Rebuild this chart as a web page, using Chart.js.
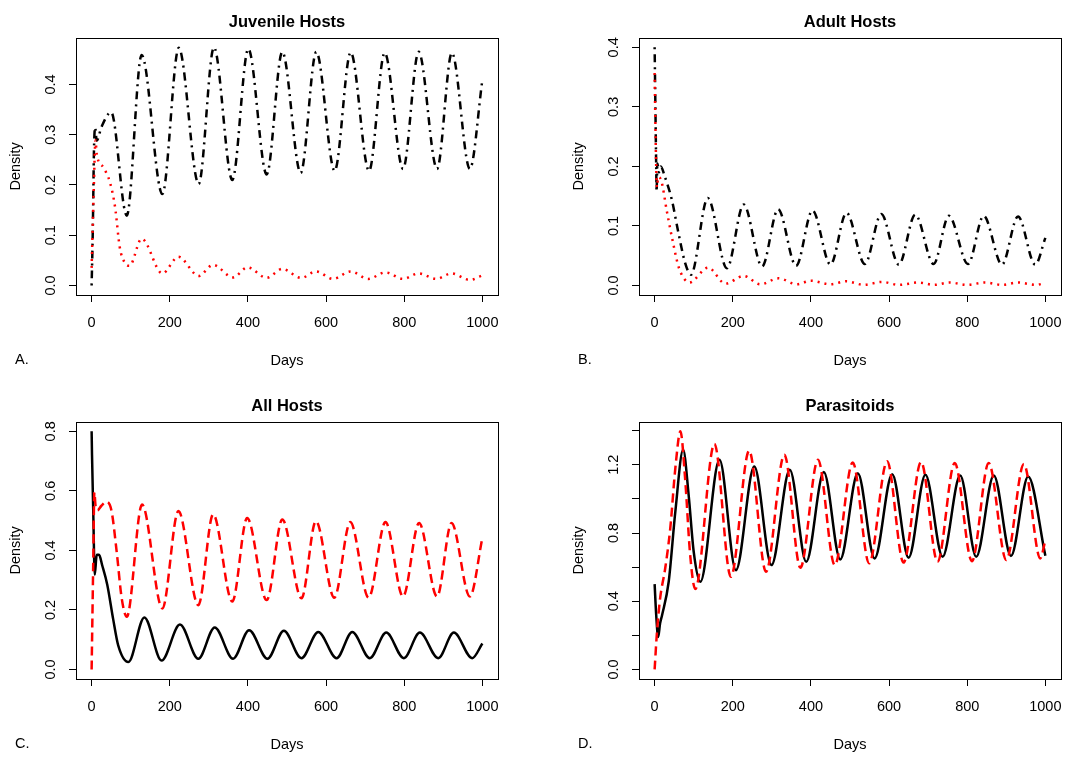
<!DOCTYPE html>
<html>
<head>
<meta charset="utf-8">
<script src="https://cdn.jsdelivr.net/npm/chart.js@4.4.1/dist/chart.umd.min.js"></script>
<style>
  html, body { margin: 0; padding: 0; background: #fff; overflow: hidden; }
  body { position: relative; width: 1085px; height: 758px; }
  .panel { position: absolute; width: 542px; height: 379px; }
</style>
</head>
<body>
<div class="panel" style="left:0;top:0"><canvas id="juvenile" width="542" height="379"></canvas></div>
<div class="panel" style="left:563px;top:0"><canvas id="adult" width="542" height="379"></canvas></div>
<div class="panel" style="left:0;top:384px"><canvas id="allHosts" width="542" height="379"></canvas></div>
<div class="panel" style="left:563px;top:384px"><canvas id="parasitoids" width="542" height="379"></canvas></div>
<script>
// ---- data: [day, density] ----
const dayTicks = [0, 200, 400, 600, 800, 1000];
const hostTicks = [0, 0.1, 0.2, 0.3, 0.4];
const hostTickLabels = ['0.0', '0.1', '0.2', '0.3', '0.4'];
const allTicks = [0, 0.2, 0.4, 0.6, 0.8];
const allTickLabels = ['0.0', '0.2', '0.4', '0.6', '0.8'];
const paraTicks = [0, 0.2, 0.4, 0.6, 0.8, 1.0, 1.2, 1.4];
const paraTickLabels = ['0.0', '', '0.4', '', '0.8', '', '1.2', ''];

const juvenileBlack = [[0,0],[3,0.11],[6,0.27],[9,0.315],[13,0.288],[25,0.315],[50,0.345],[90,0.139],
  [128,0.459],[181,0.182],[223,0.473],[274,0.202],[313,0.474],[360,0.21],[401,0.471],[448,0.221],
  [488,0.465],[535,0.224],[575,0.465],[622,0.228],[663,0.464],[710,0.228],[750,0.463],[797,0.232],
  [837,0.465],[884,0.232],[922,0.463],[968,0.232],[1000,0.409]];
const juvenileRed = [[0,0.035],[5,0.18],[10,0.289],[13,0.262],[30,0.235],[47,0.205],[60,0.156],[72,0.076],
  [85,0.045],[97,0.039],[128,0.093],[181,0.024],[222,0.057],[274,0.019],[311,0.041],[362,0.016],
  [399,0.036],[448,0.015],[488,0.033],[537,0.015],[574,0.028],[618,0.013],[663,0.028],[708,0.013],
  [752,0.026],[797,0.013],[837,0.024],[882,0.013],[921,0.024],[968,0.011],[1000,0.02]];

const adultBlack = [[0,0.4],[2,0.3],[4,0.2],[5,0.158],[7,0.205],[11,0.19],[16,0.2],[25,0.185],[44,0.144],
  [61,0.088],[78,0.038],[93,0.018],[136,0.147],[185,0.029],[228,0.136],[275,0.032],[316,0.128],
  [362,0.033],[404,0.126],[450,0.035],[491,0.122],[538,0.036],[580,0.12],[625,0.035],[667,0.119],
  [714,0.036],[753,0.117],[802,0.036],[842,0.117],[889,0.035],[930,0.116],[974,0.035],[1000,0.08]];
const adultRed = [[0,0.357],[2,0.27],[4,0.2],[6,0.165],[9,0.182],[16,0.178],[32,0.122],[49,0.066],
  [61,0.032],[75,0.012],[89,0.005],[137,0.03],[181,0.003],[228,0.016],[270,0.002],[317,0.012],
  [364,0.002],[400,0.008],[450,0.002],[491,0.007],[535,0.001],[582,0.006],[625,0.001],[676,0.005],
  [715,0.001],[755,0.005],[800,0.001],[845,0.005],[890,0.001],[930,0.005],[975,0.001],[1000,0.004]];

const allBlack = [[0,0.8],[1,0.72],[4,0.54],[8,0.318],[13,0.385],[19,0.385],[27,0.35],[40,0.285],
  [55,0.17],[68,0.081],[94,0.025],[135,0.175],[179,0.03],[226,0.151],[273,0.036],[315,0.141],
  [362,0.036],[403,0.132],[450,0.036],[492,0.13],[537,0.038],[580,0.126],[627,0.038],[667,0.126],
  [712,0.038],[754,0.124],[799,0.038],[840,0.124],[887,0.038],[927,0.124],[974,0.038],[1000,0.087]];
const allRed = [[0,0],[4,0.35],[7,0.595],[10,0.55],[15,0.535],[25,0.55],[38,0.563],[51,0.532],
  [64,0.397],[77,0.239],[90,0.177],[129,0.554],[181,0.205],[222,0.532],[273,0.216],[311,0.521],
  [360,0.228],[398,0.509],[448,0.233],[488,0.504],[537,0.239],[574,0.498],[621,0.241],[662,0.495],
  [709,0.241],[752,0.495],[797,0.245],[838,0.492],[884,0.245],[921,0.492],[968,0.245],[1000,0.442]];

const paraBlack = [[0,0.5],[4,0.32],[9,0.19],[14,0.27],[19,0.318],[36,0.514],[53,0.925],[73,1.288],
  [87,1.024],[100,0.69],[117,0.514],[166,1.229],[208,0.582],[255,1.19],[299,0.612],[346,1.171],
  [388,0.631],[433,1.157],[475,0.645],[520,1.151],[563,0.651],[608,1.145],[650,0.655],[693,1.141],
  [737,0.661],[782,1.137],[823,0.661],[868,1.137],[912,0.665],[956,1.131],[1000,0.667]];
const paraRed = [[0,0],[6,0.22],[14,0.416],[27,0.592],[40,0.827],[53,1.18],[66,1.396],[78,1.12],
  [91,0.67],[104,0.471],[153,1.322],[195,0.543],[242,1.282],[285,0.573],[332,1.259],[373,0.596],
  [418,1.229],[461,0.612],[507,1.214],[549,0.622],[595,1.22],[637,0.627],[682,1.216],[724,0.631],
  [768,1.21],[812,0.635],[855,1.21],[900,0.641],[945,1.204],[987,0.651],[1000,0.759]];

const FONT = '"Liberation Sans", Arial, sans-serif';
const DOTDASH = [2, 5, 8, 5], DOTTED = [2, 5], DASHED = [9, 5];

// box round the plot region and the panel letter, as R draws them
const frame = {
  id: 'frame',
  afterDraw(chart, args, opts) {
    const { ctx, chartArea: a } = chart;
    ctx.save();
    ctx.strokeStyle = '#000';
    ctx.lineWidth = 1;
    ctx.strokeRect(Math.round(a.left) + 0.5, Math.round(a.top) + 0.5,
      Math.round(a.right - a.left), Math.round(a.bottom - a.top));
    ctx.fillStyle = '#000';
    ctx.font = '14.5px ' + FONT;
    ctx.textBaseline = 'middle';
    ctx.fillText(opts.letter, 15, 360);
    ctx.restore();
  }
};

function line(points, color, dash) {
  return {
    data: points.map(p => ({ x: p[0], y: p[1] })),
    borderColor: color, borderWidth: 2.5, borderDash: dash,
    pointRadius: 0, cubicInterpolationMode: 'monotone', fill: false
  };
}

function panel(id, title, letter, yMin, yMax, yTicks, yLabels, datasets) {
  new Chart(document.getElementById(id), {
    type: 'line',
    data: { datasets },
    plugins: [frame],
    options: {
      responsive: false,
      animation: false,
      events: [],
      layout: { padding: { left: 0, right: 44, top: 0, bottom: 0 } },
      plugins: {
        legend: { display: false },
        tooltip: { enabled: false },
        title: { display: true, text: title, fullSize: false, color: '#000',
          font: { family: FONT, size: 16.5, weight: 'bold' }, padding: { top: 13, bottom: 5 } },
        frame: { letter }
      },
      scales: {
        x: {
          type: 'linear', min: -40, max: 1040,
          afterBuildTicks: ax => { ax.ticks = dayTicks.map(v => ({ value: v })); },
          afterFit: ax => { ax.height = 84; },
          border: { display: false },
          grid: { drawOnChartArea: false, tickLength: 7, color: '#000' },
          ticks: { padding: 12, color: '#000', maxRotation: 0, autoSkip: false,
            font: { family: FONT, size: 14.5 }, callback: v => String(v) },
          title: { display: true, text: 'Days', color: '#000',
            font: { family: FONT, size: 14.5 }, padding: { top: 0, bottom: 9 } }
        },
        y: {
          type: 'linear', min: yMin, max: yMax,
          afterBuildTicks: ax => { ax.ticks = yTicks.map(v => ({ value: v })); },
          afterFit: ax => { ax.width = 76; },
          border: { display: false },
          grid: { drawOnChartArea: false, tickLength: 7, color: '#000' },
          ticks: { padding: 8, color: '#000', minRotation: 90, maxRotation: 90, crossAlign: 'center',
            autoSkip: false, font: { family: FONT, size: 14.5 }, callback: (v, i) => yLabels[i] },
          title: { display: true, text: 'Density', color: '#000',
            font: { family: FONT, size: 14.5 }, padding: { top: 7, bottom: 0 } }
        }
      }
    }
  });
}

panel('juvenile', 'Juvenile Hosts', 'A.', -0.019, 0.493, hostTicks, hostTickLabels,
  [line(juvenileRed, '#ff0000', DOTTED), line(juvenileBlack, '#000000', DOTDASH)]);
panel('adult', 'Adult Hosts', 'B.', -0.016, 0.416, hostTicks, hostTickLabels,
  [line(adultRed, '#ff0000', DOTTED), line(adultBlack, '#000000', DOTDASH)]);
panel('allHosts', 'All Hosts', 'C.', -0.032, 0.832, allTicks, allTickLabels,
  [line(allRed, '#ff0000', DASHED), line(allBlack, '#000000', [])]);
panel('parasitoids', 'Parasitoids', 'D.', -0.056, 1.452, paraTicks, paraTickLabels,
  [line(paraRed, '#ff0000', DASHED), line(paraBlack, '#000000', [])]);
</script>
</body>
</html>
